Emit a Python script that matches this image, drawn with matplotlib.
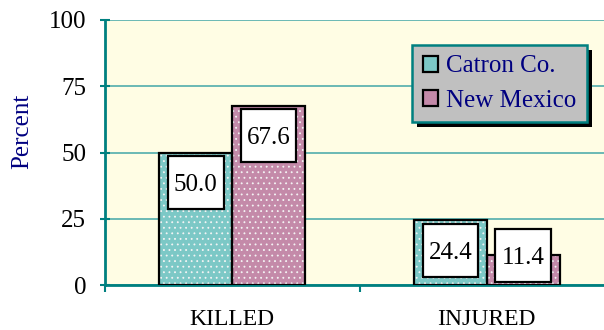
import matplotlib
matplotlib.use("Agg")
import matplotlib.pyplot as plt
from matplotlib.patches import Rectangle
from matplotlib.transforms import IdentityTransform
import numpy as np

# Datos
categorias = ["KILLED", "INJURED"]
series = ["Catron Co.", "New Mexico"]
catron = [50.0, 24.4]
new_mexico = [67.6, 11.4]
yticks = [0, 25, 50, 75, 100]

TEAL = "#008080"
COLORES = ["#7CC8C6", "#C48AA9"]
FONDO = "#FFFDE4"
NAVY = "#000080"

plt.rcParams["font.family"] = ["Liberation Serif", "DejaVu Serif"]
plt.rcParams["hatch.linewidth"] = 0.6

fig = plt.figure(figsize=(6.04, 3.30), dpi=100)
ax = fig.add_axes([105 / 604, 45 / 330, 499 / 604, 265 / 330])
ax.set_facecolor(FONDO)

x = np.arange(len(categorias))
ancho = 0.286
valores = [catron, new_mexico]

for i, (serie, vals) in enumerate(zip(series, valores)):
    pos = x + (i - 0.5) * ancho
    # relleno base + puntos blancos + borde negro
    ax.bar(pos, vals, ancho, color=COLORES[i], linewidth=0, zorder=2)
    ax.bar(pos, vals, ancho, facecolor="none", edgecolor="#F4F4F4",
           hatch="...", linewidth=0, zorder=3)
    ax.bar(pos, vals, ancho, facecolor="none", edgecolor="black",
           linewidth=1.6, zorder=4, label=serie)

    # etiquetas con recuadro blanco dentro de la barra
    caja_w, caja_h = 0.218, 20
    for p, v in zip(pos, vals):
        tope = max(v - 1.2, 21.1)
        ax.add_patch(Rectangle((p - caja_w / 2, tope - caja_h), caja_w, caja_h,
                               facecolor="white", edgecolor="black",
                               linewidth=1.6, zorder=5))
        ax.text(p, tope - caja_h / 2, f"{v:.1f}", ha="center",
                va="center_baseline", fontsize=18, color="black", zorder=6)

ax.set_ylim(0, 100)
ax.set_xlim(-0.5, 1.5 - 10 / 252)
ax.set_yticks(yticks)
ax.yaxis.grid(True, color="#5FB3B0", linewidth=1.3, zorder=0)
ax.set_axisbelow(True)

for s in ("top", "right"):
    ax.spines[s].set_visible(False)
for s in ("left", "bottom"):
    ax.spines[s].set_color(TEAL)
    ax.spines[s].set_linewidth(2)

ax.tick_params(axis="y", direction="inout", length=7, width=1.5, color=TEAL,
               labelsize=18, pad=10)

# divisiones entre categorias y etiquetas centradas
ax.set_xticks([-0.5, 0.5])
ax.set_xticklabels([])
ax.tick_params(axis="x", which="major", direction="out", length=5, width=1.5, color=TEAL)
ax.set_xticks(x, minor=True)
ax.set_xticklabels(categorias, minor=True)
ax.tick_params(axis="x", which="minor", length=0, labelsize=17, pad=17)

ax.set_ylabel("Percent", fontsize=18, color=NAVY)
ax.yaxis.set_label_coords(-0.143, 0.58)

leg = ax.legend(loc="upper right", bbox_to_anchor=(0.966, 0.906), borderaxespad=0,
                fontsize=18, handlelength=0.6, handleheight=0.6, handletextpad=0.35,
                labelspacing=0.5, borderpad=0.42, fancybox=False, framealpha=1)
leg.set_zorder(10)
leg.get_frame().set_facecolor("#C0C0C0")
leg.get_frame().set_edgecolor(TEAL)
leg.get_frame().set_linewidth(1.8)
for t in leg.get_texts():
    t.set_color(NAVY)
for h, c in zip(leg.legend_handles, COLORES):
    h.set_facecolor(c)
    h.set_edgecolor("black")

# sombra negra desplazada detras de la leyenda
fig.canvas.draw()
bb = leg.get_frame().get_window_extent()
ax.add_patch(Rectangle((bb.x0 + 5, bb.y0 - 5), bb.width, bb.height,
                       transform=IdentityTransform(), facecolor="black",
                       edgecolor="none", zorder=9, clip_on=False))

fig.savefig("out.png", dpi=100)
